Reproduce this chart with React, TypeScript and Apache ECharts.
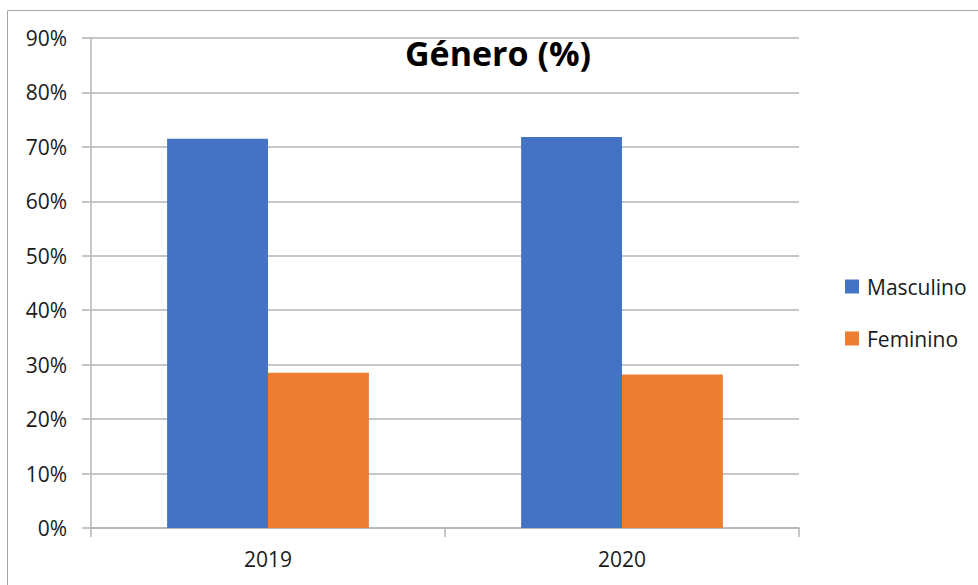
import React, { useEffect, useRef } from "react";
import * as echarts from "echarts";

const categories = ["2019", "2020"];
const masculino = [71.5, 71.8];
const feminino = [28.5, 28.2];
const seriesNames = ["Masculino", "Feminino"];
const yTicks = { min: 0, max: 90, interval: 10 };
const titleText = "Género (%)";

const FONT = "'Open Sans', 'DejaVu Sans', sans-serif";
const GRID_COLOR = "#b4b4b4";

export default function App() {
  const ref = useRef<HTMLDivElement>(null);
  useEffect(() => {
    if (!ref.current) return;
    const chart = echarts.init(ref.current, null, { renderer: "svg" });
    chart.setOption({
      animation: false,
      backgroundColor: "#ffffff",
      textStyle: { fontFamily: FONT },
      title: {
        text: titleText,
        left: 493,
        top: 31,
        textAlign: "center",
        textStyle: { fontFamily: FONT, fontSize: 34, fontWeight: "bold", color: "#000000" },
      },
      graphic: [
        {
          type: "rect",
          shape: { x: 7.5, y: 10.5, width: 1200, height: 1000 },
          style: { fill: "none", stroke: "#a6a6a6", lineWidth: 1 },
          silent: true,
          z: -1,
        },
      ],
      legend: {
        orient: "vertical",
        left: 840,
        top: 271,
        itemWidth: 14,
        itemHeight: 14,
        itemGap: 31,
        icon: "rect",
        textStyle: { fontFamily: FONT, fontSize: 21, color: "#1a1a1a", padding: [0, 0, 0, 3] },
        data: seriesNames,
      },
      grid: { left: 91, right: 179, top: 38, bottom: 57, containLabel: false },
      xAxis: {
        type: "category",
        data: categories,
        axisLine: { show: true, lineStyle: { color: GRID_COLOR, width: 1.5 } },
        axisTick: { show: true, length: 9, alignWithLabel: false, lineStyle: { color: GRID_COLOR, width: 1.5 } },
        axisLabel: { fontFamily: FONT, fontSize: 21, color: "#1a1a1a", margin: 20 },
        splitLine: { show: false },
      },
      yAxis: {
        type: "value",
        min: yTicks.min,
        max: yTicks.max,
        interval: yTicks.interval,
        axisLine: { show: true, lineStyle: { color: GRID_COLOR, width: 1.5 } },
        axisTick: { show: true, length: 9, lineStyle: { color: GRID_COLOR, width: 1.5 } },
        axisLabel: {
          fontFamily: FONT,
          fontSize: 21,
          color: "#1a1a1a",
          margin: 24,
          formatter: (v: number) => `${v}%`,
        },
        splitLine: { show: true, lineStyle: { color: GRID_COLOR, width: 1.5 } },
      },
      series: [
        {
          name: seriesNames[0],
          type: "bar",
          data: masculino,
          barGap: "0%",
          barCategoryGap: "43%",
          itemStyle: { color: "#4472C4" },
        },
        {
          name: seriesNames[1],
          type: "bar",
          data: feminino,
          barGap: "0%",
          barCategoryGap: "43%",
          itemStyle: { color: "#ED7D31" },
        },
      ],
    });
    return () => chart.dispose();
  }, []);
  return (
    <div
      ref={ref}
      style={{ position: "fixed", left: 0, top: 0, width: 978, height: 585 }}
    />
  );
}
